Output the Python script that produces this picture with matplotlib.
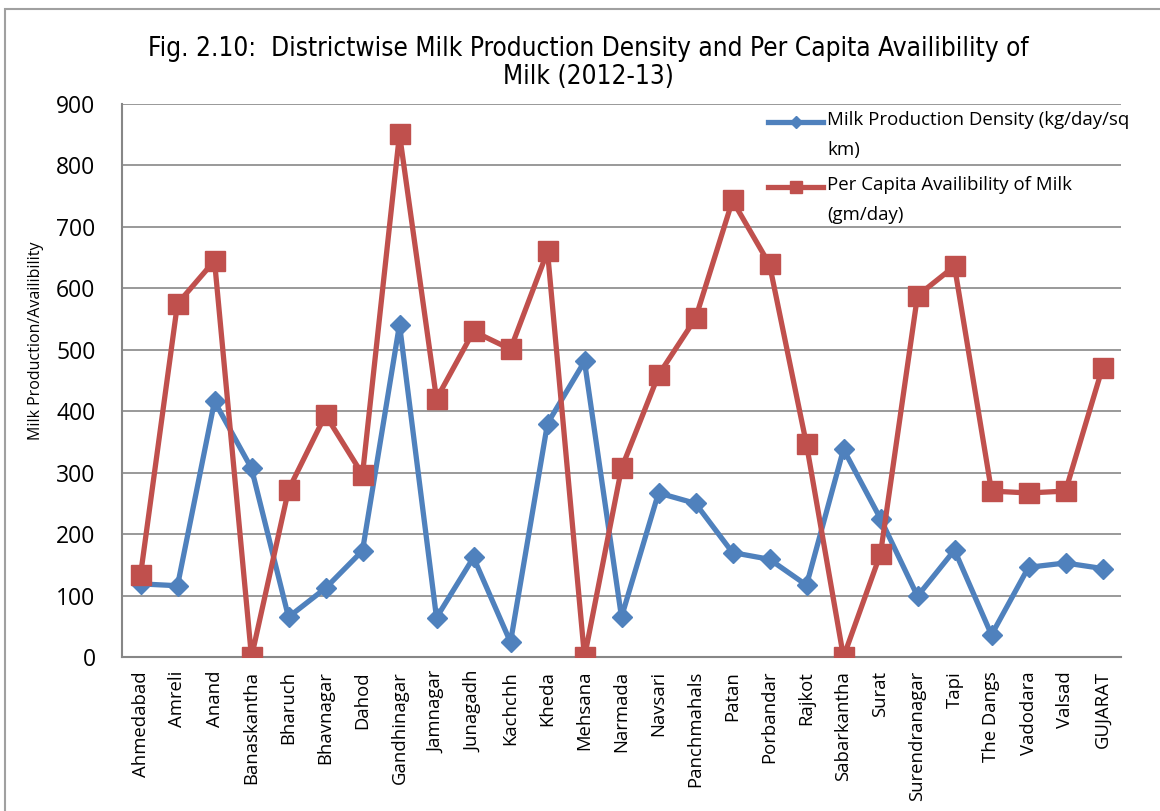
import matplotlib
matplotlib.use("Agg")
import matplotlib.pyplot as plt
from matplotlib.patches import Rectangle
from matplotlib.lines import Line2D

districts = ["Ahmedabad", "Amreli", "Anand", "Banaskantha", "Bharuch", "Bhavnagar",
             "Dahod", "Gandhinagar", "Jamnagar", "Junagadh", "Kachchh", "Kheda",
             "Mehsana", "Narmada", "Navsari", "Panchmahals", "Patan", "Porbandar",
             "Rajkot", "Sabarkantha", "Surat", "Surendranagar", "Tapi", "The Dangs",
             "Vadodara", "Valsad", "GUJARAT"]

density = [119, 116, 416, 307, 65, 112, 173, 541, 64, 162, 24, 380, 481, 65,
           267, 250, 170, 159, 117, 338, 225, 99, 174, 36, 146, 153, 144]

per_capita = [133, 575, 645, 0, 272, 394, 297, 851, 420, 530, 501, 660, 0, 307,
              459, 551, 743, 639, 346, 0, 168, 588, 636, 270, 267, 270, 471]

series_labels = ["Milk Production Density (kg/day/sq\nkm)",
                 "Per Capita Availibility of Milk\n(gm/day)"]

yticks = list(range(0, 1000, 100))

BLUE = "#4F81BD"
RED = "#C0504D"
GRID = "#878787"

W, H = 1160, 811
fig = plt.figure(figsize=(W / 100, H / 100), dpi=100)
fig.patch.set_facecolor("white")

# outer chart border
fig.add_artist(Rectangle((5 / W, -0.1), 1.2, (H - 9) / H + 0.1, transform=fig.transFigure,
                         fill=False, edgecolor="#a0a0a0", linewidth=1.5))

left, right, top, bottom = 122, 1121, 104, 657
ax = fig.add_axes([left / W, 1 - bottom / H, (right - left) / W, (bottom - top) / H])

styles = [dict(color=BLUE, marker="D", markersize=10), dict(color=RED, marker="s", markersize=14)]

x = list(range(len(districts)))
for values, st, z in [(density, styles[0], 3), (per_capita, styles[1], 4)]:
    ax.plot(x, values, color=st["color"], linewidth=3.8, marker=st["marker"],
            markersize=st["markersize"], markerfacecolor=st["color"],
            markeredgecolor=st["color"], zorder=z)

ax.set_xlim(-0.5, len(districts) - 0.5)
ax.set_ylim(0, 900)
ax.set_yticks(yticks)
ax.set_yticklabels([str(v) for v in yticks], fontsize=16.5, family="Open Sans")
ax.set_xticks(x)
ax.set_xticklabels(districts, rotation=90, fontsize=13.3, family="Open Sans")
ax.tick_params(axis="both", length=0)
ax.tick_params(axis="y", pad=19)
ax.tick_params(axis="x", pad=10)

ax.grid(axis="y", color=GRID, linewidth=1.2, zorder=0)
ax.set_axisbelow(True)
for s in ["top", "right"]:
    ax.spines[s].set_visible(False)
for s in ["left", "bottom"]:
    ax.spines[s].set_color(GRID)
    ax.spines[s].set_linewidth(1.5)

ax.set_ylabel("Milk Production/Availibility", fontsize=11.5, family="Open Sans")
ax.yaxis.set_label_coords((44 - left) / (right - left), (bottom - 341) / (bottom - top))

# legend: handle sits beside the first line of each two-line label
for (label, st, y_handle) in zip(series_labels, styles, [122, 187]):
    yf = 1 - y_handle / H
    fig.add_artist(Line2D([768 / W, 823 / W], [yf, yf], transform=fig.transFigure,
                          color=st["color"], linewidth=3.8))
    fig.add_artist(Line2D([795.5 / W], [yf], transform=fig.transFigure,
                          color=st["color"], marker=st["marker"],
                          markersize=st["markersize"] * 0.65, linestyle="none"))
    fig.text(827 / W, 1 - (y_handle - 11) / H, label, ha="left", va="top", fontsize=13.4,
             family="Open Sans", linespacing=1.85, transform=fig.transFigure)

fig.text(588 / W, 1 - 63 / H,
         "Fig. 2.10:  Districtwise Milk Production Density and Per Capita Availibility of\nMilk (2012-13)",
         ha="center", va="center", fontsize=18.8, family="DejaVu Sans", stretch="condensed",
         linespacing=1.05)

fig.savefig("out.png", dpi=100, facecolor="white")
